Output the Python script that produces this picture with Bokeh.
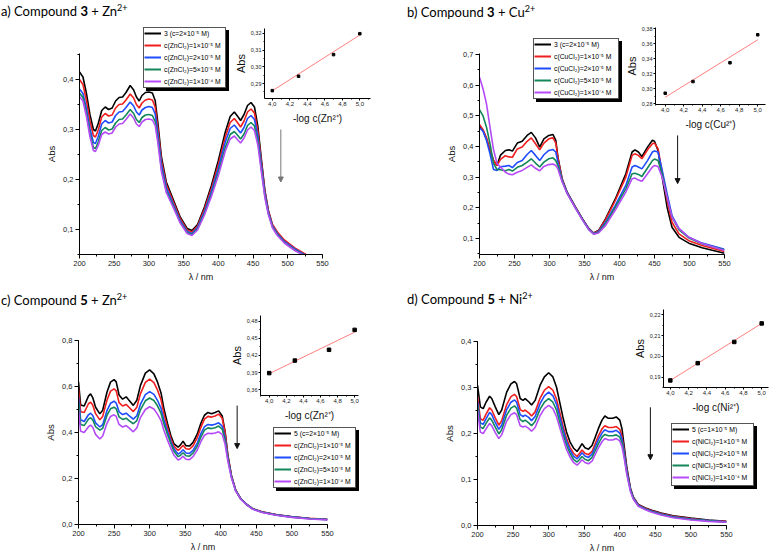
from bokeh.plotting import figure
from bokeh.models import (Div, Legend, LegendItem, Arrow, NormalHead, SingleIntervalTicker,
                          CustomJSTickFormatter, Range1d)
from bokeh.embed import file_html
from bokeh.resources import INLINE

# ---------------- data ----------------
# a) compound 3 + Zn2+
wl_a = [200, 205, 210, 215, 220, 223, 227, 232, 237, 242, 247, 252, 257, 262, 267, 273, 278, 282, 286, 290,
        295, 300, 305, 309, 313, 318, 325, 335, 345, 355, 362, 370, 380, 390, 400, 410, 417, 423, 428, 432,
        437, 442, 447, 452, 457, 462, 467, 472, 478, 485, 495, 510, 530, 550]
a_black = [.415, .405, .372, .330, .300, .297, .312, .338, .345, .340, .343, .357, .364, .365, .374, .388, .379, .365, .357, .368,
           .374, .375, .373, .358, .312, .245, .195, .160, .125, .102, .098, .110, .145, .188, .238, .295, .326, .335, .326, .318,
           .330, .348, .354, .345, .305, .240, .178, .138, .108, .093, .077, .062, .046, .035]
a_red = [.400, .390, .358, .317, .288, .285, .299, .325, .332, .327, .329, .343, .350, .351, .359, .371, .363, .350, .343, .353,
         .359, .361, .359, .345, .302, .238, .190, .156, .122, .099, .095, .107, .141, .182, .230, .285, .314, .322, .313, .305,
         .317, .335, .341, .333, .296, .235, .176, .138, .110, .095, .079, .063, .047, .036]
a_blue = [.381, .372, .342, .302, .274, .272, .286, .311, .318, .313, .315, .328, .335, .336, .344, .355, .347, .335, .329, .339,
          .344, .346, .344, .331, .291, .230, .184, .151, .118, .096, .092, .104, .136, .176, .222, .275, .302, .309, .300, .293,
          .304, .322, .328, .320, .286, .228, .172, .135, .107, .092, .076, .061, .045, .034]
a_green = [.373, .364, .333, .292, .264, .262, .275, .298, .304, .299, .301, .313, .320, .321, .329, .340, .332, .320, .314, .324,
           .329, .330, .328, .316, .279, .221, .178, .147, .115, .094, .090, .101, .132, .170, .214, .264, .290, .296, .288, .281,
           .291, .308, .314, .307, .275, .220, .167, .132, .105, .090, .074, .059, .044, .033]
a_purple = [.366, .357, .326, .286, .258, .256, .268, .290, .295, .291, .293, .305, .311, .312, .320, .331, .323, .311, .306, .315,
            .320, .321, .319, .308, .272, .216, .174, .144, .113, .092, .088, .099, .129, .166, .208, .257, .281, .287, .279, .273,
            .283, .299, .305, .298, .268, .215, .164, .130, .103, .088, .073, .058, .043, .032]
a_labels = ["3 (c=2×10⁻⁵ M)", "c(ZnCl₂)=1×10⁻⁵ M", "c(ZnCl₂)=2×10⁻⁵ M", "c(ZnCl₂)=5×10⁻⁵ M", "c(ZnCl₂)=1×10⁻⁴ M"]
a_in_x = [4.0, 4.3, 4.7, 5.0]
a_in_y = [0.2858, 0.2944, 0.3073, 0.3198]
a_fit_x = [4.0, 5.0]
a_fit_y = [0.2857, 0.3190]
a_arrow = [490, 0.300, 0.195]

# b) compound 3 + Cu2+
wl_b = [200, 205, 210, 215, 220, 225, 230, 237, 242, 247, 254, 261, 268, 274, 280, 286, 292, 299, 305, 309,
        312, 318, 325, 337, 347, 356, 363, 370, 380, 394, 409, 418, 422, 427, 432, 440, 447, 450, 455, 461,
        468, 475, 485, 499, 518, 550]
b_black = [.468, .452, .425, .387, .354, .338, .372, .387, .389, .385, .411, .417, .436, .446, .428, .398, .425, .436, .439, .420,
           .365, .295, .252, .203, .165, .133, .118, .126, .164, .229, .311, .382, .389, .382, .367, .398, .420, .417, .387, .300,
           .202, .137, .104, .085, .070, .052]
b_red = [.472, .455, .428, .390, .355, .338, .358, .370, .366, .365, .392, .398, .417, .428, .409, .389, .411, .425, .428, .411,
         .363, .294, .251, .202, .164, .132, .117, .125, .161, .224, .300, .371, .376, .371, .360, .389, .409, .411, .393, .316,
         .224, .153, .115, .093, .077, .058]
b_blue = [.461, .450, .420, .376, .325, .322, .334, .336, .338, .331, .348, .354, .374, .387, .371, .354, .373, .387, .390, .382,
          .349, .291, .250, .201, .163, .131, .116, .122, .153, .208, .273, .333, .338, .333, .327, .354, .382, .385, .382, .322,
          .246, .175, .132, .104, .085, .065]
b_green = [.520, .500, .463, .409, .345, .325, .324, .321, .325, .320, .332, .338, .349, .360, .346, .333, .349, .360, .363, .354,
           .338, .288, .249, .200, .162, .130, .115, .120, .148, .202, .262, .311, .313, .309, .302, .330, .354, .359, .354, .311,
           .235, .170, .128, .102, .083, .063]
b_purple = [.626, .588, .539, .463, .390, .345, .333, .316, .310, .308, .316, .322, .332, .340, .329, .321, .335, .341, .343, .338,
            .327, .285, .247, .199, .161, .129, .114, .118, .142, .193, .251, .295, .297, .291, .287, .311, .333, .338, .335, .300,
            .235, .170, .132, .104, .084, .061]
b_labels = ["3 (c=2×10⁻⁵ M)", "c(CuCl₂)=1×10⁻⁵ M", "c(CuCl₂)=2×10⁻⁵ M", "c(CuCl₂)=5×10⁻⁵ M", "c(CuCl₂)=1×10⁻⁴ M"]
b_in_x = [4.0, 4.3, 4.7, 5.0]
b_in_y = [0.2941, 0.3097, 0.3347, 0.3720]
b_fit_x = [4.0, 5.0]
b_fit_y = [0.2888, 0.3653]
b_arrow = [483, 0.436, 0.279]

# c) compound 5 + Zn2+
wl_c = [200, 203, 208, 214, 217, 220, 224, 230, 234, 240, 245, 250, 253, 257, 262, 267, 271, 277, 282, 287,
        294, 300, 306, 311, 316, 320, 325, 330, 334, 340, 343, 347, 351, 356, 361, 367, 372, 377, 382, 387,
        392, 397, 402, 406, 410, 415, 421, 428, 436, 445, 458, 478, 500, 525, 550]
c_black = [.620, .520, .515, .558, .568, .552, .510, .481, .497, .575, .619, .630, .620, .563, .545, .555, .540, .518, .540, .604,
           .658, .672, .655, .620, .572, .505, .440, .385, .352, .336, .345, .362, .343, .341, .357, .394, .440, .475, .487, .482,
           .487, .494, .472, .405, .300, .212, .148, .112, .088, .068, .054, .042, .033, .026, .022]
c_red = [.590, .490, .487, .525, .532, .520, .482, .455, .470, .540, .580, .590, .581, .530, .515, .522, .510, .491, .510, .568,
         .618, .632, .617, .585, .542, .482, .423, .372, .341, .322, .330, .345, .329, .327, .342, .378, .422, .458, .470, .467,
         .472, .480, .462, .400, .298, .212, .150, .113, .089, .069, .055, .043, .034, .027, .023]
c_blue = [.555, .455, .448, .477, .484, .474, .442, .424, .434, .495, .527, .536, .528, .490, .478, .484, .473, .458, .473, .522,
          .565, .578, .566, .540, .505, .455, .405, .360, .330, .306, .312, .325, .311, .309, .322, .354, .395, .425, .435, .432,
          .436, .442, .428, .378, .290, .208, .148, .112, .088, .068, .054, .042, .033, .026, .022]
c_green = [.535, .435, .430, .458, .464, .455, .425, .410, .418, .474, .503, .510, .503, .468, .457, .462, .452, .438, .452, .498,
           .538, .550, .539, .516, .484, .438, .392, .350, .320, .295, .300, .312, .299, .297, .310, .341, .380, .410, .420, .417,
           .421, .428, .415, .368, .285, .206, .147, .111, .087, .067, .053, .041, .032, .025, .021]
c_purple = [.500, .405, .400, .425, .432, .423, .392, .372, .385, .440, .470, .477, .470, .435, .424, .430, .420, .403, .420, .465,
            .500, .512, .502, .480, .452, .410, .368, .330, .302, .280, .285, .297, .284, .282, .295, .324, .360, .388, .397, .395,
            .398, .403, .392, .350, .275, .202, .145, .110, .086, .066, .052, .040, .031, .024, .020]
c_labels = ["5 (c=2×10⁻⁵ M)", "c(ZnCl₂)=1×10⁻⁵ M", "c(ZnCl₂)=2×10⁻⁵ M", "c(ZnCl₂)=5×10⁻⁵ M", "c(ZnCl₂)=1×10⁻⁴ M"]
c_in_x = [4.0, 4.3, 4.7, 5.0]
c_in_y = [0.389, 0.411, 0.430, 0.465]
c_fit_x = [4.0, 5.0]
c_fit_y = [0.388, 0.461]
c_arrow = [423, 0.517, 0.330]

# d) compound 5 + Ni2+
wl_d = [200, 204, 208, 212, 217, 220, 225, 230, 234, 241, 247, 252, 255, 260, 264, 267, 272, 276, 281, 288,
        294, 300, 306, 311, 315, 320, 325, 330, 335, 340, 343, 347, 351, 356, 361, 365, 370, 375, 379, 384,
        390, 395, 400, 403, 406, 410, 415, 419, 426, 436, 445, 458, 475, 500, 525, 550]
d_black = [.305, .258, .254, .268, .281, .276, .258, .241, .251, .290, .308, .313, .308, .276, .272, .276, .269, .262, .272, .305,
           .323, .332, .323, .301, .272, .236, .204, .182, .168, .161, .168, .178, .169, .166, .174, .190, .211, .229, .238, .233,
           .233, .236, .229, .211, .175, .125, .081, .062, .046, .038, .033, .027, .021, .016, .012, .009]
d_red = [.280, .232, .229, .242, .256, .251, .234, .218, .228, .263, .280, .285, .280, .252, .248, .251, .245, .238, .247, .277,
         .294, .302, .294, .275, .250, .218, .190, .170, .157, .150, .156, .164, .157, .154, .161, .176, .195, .210, .217, .213,
         .213, .215, .209, .195, .165, .120, .079, .061, .045, .037, .032, .026, .020, .015, .011, .009]
d_blue = [.270, .223, .220, .232, .246, .241, .224, .209, .218, .252, .268, .273, .268, .241, .237, .240, .235, .228, .237, .265,
          .282, .290, .282, .264, .240, .210, .183, .164, .151, .145, .150, .158, .151, .148, .155, .169, .187, .201, .208, .204,
          .204, .207, .201, .188, .160, .117, .078, .060, .044, .036, .031, .025, .019, .014, .011, .008]
d_green = [.262, .214, .211, .222, .234, .229, .214, .199, .208, .240, .255, .260, .255, .230, .226, .229, .223, .217, .226, .253,
           .268, .276, .268, .251, .228, .200, .175, .157, .144, .138, .143, .150, .144, .141, .148, .161, .178, .192, .198, .195,
           .195, .197, .192, .180, .154, .113, .076, .059, .043, .035, .030, .024, .018, .013, .010, .007]
d_purple = [.250, .203, .200, .210, .222, .217, .202, .189, .197, .227, .241, .245, .241, .217, .214, .216, .211, .205, .213, .239,
            .254, .261, .254, .237, .216, .190, .166, .149, .137, .131, .136, .143, .137, .134, .140, .153, .169, .182, .189, .186,
            .186, .189, .184, .172, .148, .110, .074, .057, .042, .034, .029, .023, .017, .012, .009, .007]
d_labels = ["5 (c=1×10⁻⁵ M)", "c(NiCl₂)=1×10⁻⁵ M", "c(NiCl₂)=2×10⁻⁵ M", "c(NiCl₂)=5×10⁻⁵ M", "c(NiCl₂)=1×10⁻⁴ M"]
d_in_x = [4.0, 4.3, 4.7, 5.0]
d_in_y = [0.1884, 0.1967, 0.2069, 0.2158]
d_fit_x = [4.0, 5.0]
d_fit_y = [0.1884, 0.2158]
d_arrow = [443, 0.257, 0.143]

# ---------------- style ----------------
COLORS = ["#000000", "#f01e1e", "#1f4cff", "#13875a", "#b44bf7"]
FONT = "Liberation Sans"
NAN = float("nan")


def pos(left, top, extra=None):
    st = {"position": "absolute", "left": f"{left}px", "top": f"{top}px"}
    if extra:
        st.update(extra)
    return st


def comma_fmt(d):
    return CustomJSTickFormatter(code=f"return tick.toFixed({d}).replace('.', ',');")


def style_axis(ax, fs, ls, tout, mout, st, lst):
    ax.axis_line_color = "black"
    ax.axis_line_width = 1
    ax.major_tick_in = 0
    ax.major_tick_out = tout
    ax.minor_tick_in = 0
    ax.minor_tick_out = mout
    ax.major_tick_line_color = "black"
    ax.minor_tick_line_color = "black"
    ax.major_label_text_font = FONT
    ax.major_label_text_font_size = fs
    ax.major_label_text_color = "#222"
    ax.axis_label_text_font = FONT
    ax.axis_label_text_font_size = ls
    ax.axis_label_text_font_style = "normal"
    ax.axis_label_text_color = "#111"
    ax.major_label_standoff = st
    ax.axis_label_standoff = lst


def make_main(wl, series, frame, borders, yr, yint, arrow, arrow_color):
    L, T, R, B = frame
    bl, bt, br, bb = borders
    p = figure(width=bl + (R - L) + br, height=bt + (B - T) + bb,
               x_range=Range1d(200, 550), y_range=Range1d(*yr),
               output_backend="svg", toolbar_location=None,
               min_border_left=bl, min_border_right=br, min_border_top=bt, min_border_bottom=bb,
               background_fill_color=None, border_fill_color=None, outline_line_color=None, margin=0)
    p.xgrid.visible = False
    p.ygrid.visible = False
    p.xaxis.ticker = SingleIntervalTicker(interval=50, num_minor_ticks=2)
    p.yaxis.ticker = SingleIntervalTicker(interval=yint, num_minor_ticks=2)
    p.yaxis.formatter = comma_fmt(1)
    p.xaxis.axis_label = "λ / nm"
    p.yaxis.axis_label = "Abs"
    style_axis(p.xaxis[0], "7.5px", "9px", 4, 2, 2, 3)
    style_axis(p.yaxis[0], "7.5px", "9.5px", 4, 2, 2, 3)
    for s, c in zip(series, COLORS):
        p.line(wl, s, line_color=c, line_width=1.6)
    ax, y0, y1 = arrow
    p.add_layout(Arrow(end=NormalHead(size=5, fill_color=arrow_color, line_color=arrow_color),
                       x_start=ax, y_start=y0, x_end=ax, y_end=y1,
                       line_color=arrow_color, line_width=1))
    p.styles = pos(L - bl, T - bt)
    return p


def make_legend(labels, box):
    left, top, w, h = box
    p = figure(width=w, height=h, x_axis_location=None, y_axis_location=None,
               x_range=Range1d(0, 1), y_range=Range1d(0, 1),
               output_backend="svg", toolbar_location=None, min_border=0,
               min_border_left=0, min_border_right=0, min_border_top=0, min_border_bottom=0,
               background_fill_color="white", border_fill_color="white", outline_line_color=None, margin=0)
    p.xgrid.visible = False
    p.ygrid.visible = False
    # legend-only renderers (nothing to draw in the plot area)
    rs = [p.line([NAN], [NAN], line_color=c, line_width=2) for c in COLORS]
    leg = Legend(items=[LegendItem(label=l, renderers=[r]) for l, r in zip(labels, rs)],
                 location="top_left", label_text_font=FONT, label_text_font_size="6.8px",
                 label_text_color="black",
                 glyph_width=17, glyph_height=10, label_height=10, label_standoff=3,
                 spacing=2, padding=2, margin=0, border_line_color=None,
                 background_fill_alpha=0)
    p.add_layout(leg, "center")
    p.styles = pos(left, top, {"border": "1px solid #555", "box-shadow": "3px 3px 0 #000",
                               "background": "white"})
    return p


def make_inset(xs, ys, fx, fy, frame, borders, xr, yr, yint, xlabel, msize):
    L, T, R, B = frame
    bl, bt, br, bb = borders
    p = figure(width=bl + (R - L) + br, height=bt + (B - T) + bb,
               x_range=Range1d(*xr), y_range=Range1d(*yr),
               output_backend="svg", toolbar_location=None,
               min_border_left=bl, min_border_right=br, min_border_top=bt, min_border_bottom=bb,
               background_fill_color=None, border_fill_color=None, outline_line_color=None, margin=0)
    p.xgrid.visible = False
    p.ygrid.visible = False
    p.xaxis.ticker = SingleIntervalTicker(interval=0.2, num_minor_ticks=2)
    p.yaxis.ticker = SingleIntervalTicker(interval=yint, num_minor_ticks=2)
    p.xaxis.formatter = comma_fmt(1)
    p.yaxis.formatter = comma_fmt(2)
    p.xaxis.axis_label = xlabel
    p.yaxis.axis_label = "Abs"
    style_axis(p.xaxis[0], "6px", "10px", 2, 1, 1, 4)
    style_axis(p.yaxis[0], "5.5px", "11px", 2, 1, 1, 1)
    p.line(fx, fy, line_color="#ff8080", line_width=1)
    p.scatter(xs, ys, marker="square", size=msize, fill_color="black", line_color="black")
    p.styles = pos(L - bl, T - bt)
    return p


def title_div(letter, num, ion, left, top):
    html = (f'<div style="font-family:Lato;font-size:13px;line-height:16px;white-space:nowrap;color:#000">'
            f'{letter}) Compound <b>{num}</b> + {ion}<sup style="font-size:9px;line-height:0">2+</sup></div>')
    return Div(text=html, width=200, height=18, margin=0, styles=pos(left, top))


pa = make_main(wl_a, [a_black, a_red, a_blue, a_green, a_purple],
               (79, 53, 322, 254), (40, 33, 10, 32), (0.05, 0.452), 0.1, a_arrow, "#777777")
pb = make_main(wl_b, [b_black, b_red, b_blue, b_green, b_purple],
               (479, 53, 724, 254), (40, 33, 10, 32), (0.048, 0.703), 0.1, b_arrow, "#111111")
pc = make_main(wl_c, [c_black, c_red, c_blue, c_green, c_purple],
               (78, 340, 327, 524), (40, 30, 10, 31), (0.0, 0.8), 0.2, c_arrow, "#111111")
pd = make_main(wl_d, [d_black, d_red, d_blue, d_green, d_purple],
               (477, 341, 726, 526), (40, 31, 10, 29), (0.0, 0.4), 0.1, d_arrow, "#111111")

la = make_legend(a_labels, (143, 27, 83, 61))
lb = make_legend(b_labels, (533, 38, 86, 61))
lc = make_legend(c_labels, (273, 427, 83, 61))
ld = make_legend(d_labels, (671, 423, 83, 63))

ia = make_inset(a_in_x, a_in_y, a_fit_x, a_fit_y, (261, 28, 370, 100), (30, 8, 5, 26),
                (3.911, 5.122), (0.2811, 0.3229), 0.01, "-log c(Zn²⁺)", 2.5)
ib = make_inset(b_in_x, b_in_y, b_fit_x, b_fit_y, (652, 27, 765, 104), (30, 8, 4, 28),
                (3.895, 5.084), (0.2791, 0.3817), 0.02, "-log c(Cu²⁺)", 2.5)
ic = make_inset(c_in_x, c_in_y, c_fit_x, c_fit_y, (257, 315, 358, 397), (30, 8, 5, 26),
                (3.898, 5.045), (0.3496, 0.4903), 0.03, "-log c(Zn²⁺)", 3.5)
idd = make_inset(d_in_x, d_in_y, d_fit_x, d_fit_y, (660, 309, 768, 389), (30, 8, 2, 26),
                 (3.9255, 5.0745), (0.185, 0.2225), 0.01, "-log c(Ni²⁺)", 3.5)

ta = title_div("a", "3", "Zn", 1, 3)
tb = title_div("b", "3", "Cu", 407, 4)
tc = title_div("c", "5", "Zn", 1, 292)
td = title_div("d", "5", "Ni", 407, 291)

roots = [pa, pb, pc, pd, la, lb, lc, ld, ia, ib, ic, idd, ta, tb, tc, td]
open("out.html", "w").write(file_html(roots, INLINE))
